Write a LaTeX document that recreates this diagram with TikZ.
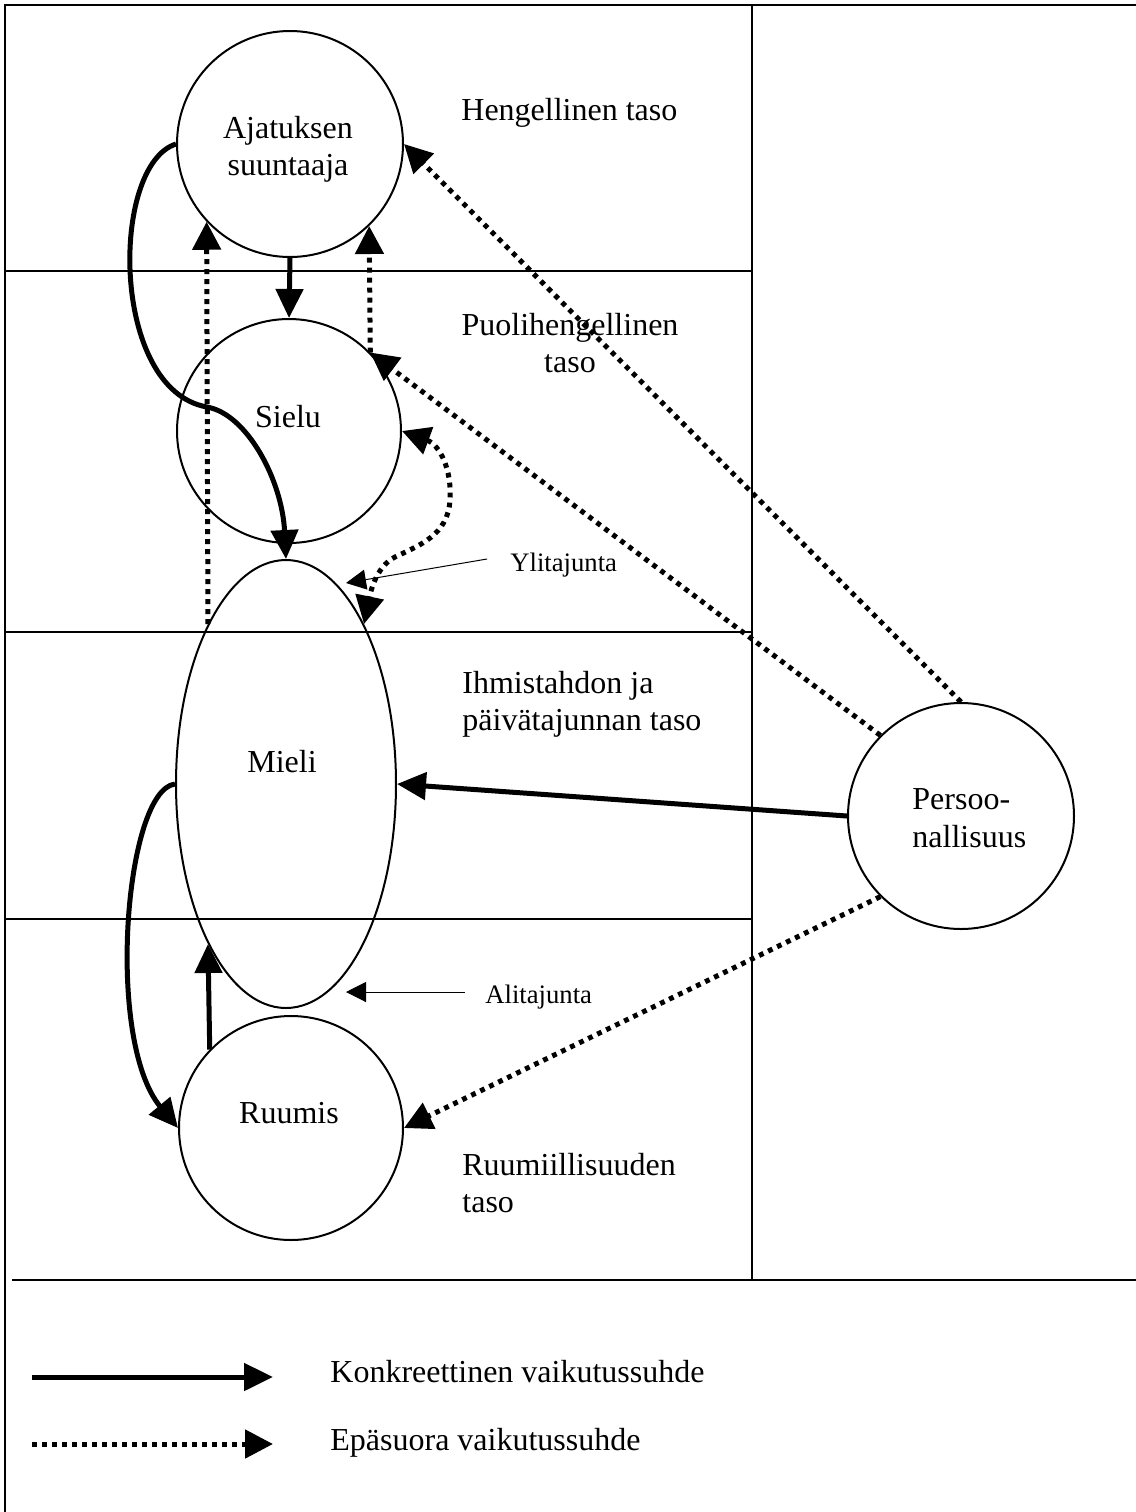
\documentclass[tikz,border=0pt]{standalone}
\usepackage{fontspec}
\setmainfont{Liberation Serif}
\usetikzlibrary{arrows.meta,shapes.geometric}
\begin{document}
\begin{tikzpicture}[x=0.5pt,y=-0.5pt,
  every node/.style={font=\fontsize{16}{18.5}\selectfont, inner sep=0pt},
  ring/.style={circle, draw, line width=1pt, minimum size=#1, inner sep=0pt},
  oval/.style={ellipse, draw, line width=1pt, minimum width=110pt, minimum height=224pt, inner sep=0pt},
  gridline/.style={line width=1pt},
  solidarrow/.style={line width=2.5pt, -{Triangle[length=14.5pt,width=13.5pt]}},
  dotarrow/.style={line width=2.5pt, dash pattern=on 2.4pt off 2.6pt, -{Triangle[length=14pt,width=14pt]}},
  dotboth/.style={line width=2.5pt, dash pattern=on 2.4pt off 2.6pt, {Triangle[length=14pt,width=14pt]}-{Triangle[length=14pt,width=14pt]}},
  thinarrow/.style={line width=0.5pt, -{Triangle[length=10pt,width=10pt]}},
  smalltext/.style={font=\fontsize{13.33}{15.4}\selectfont},
  ltxt/.style={anchor=base west},
  ctxt/.style={anchor=base}
]
\useasboundingbox (0,0) rectangle (1136,1512);
% frame and grid
\draw[gridline] (5,1530) -- (5,5) -- (1150,5);
\draw[gridline] (752,5) -- (752,1280);
\draw[gridline] (5,271) -- (752,271);
\draw[gridline] (5,632) -- (752,632);
\draw[gridline] (5,919) -- (752,919);
\draw[gridline] (12,1280) -- (1150,1280);

% main nodes
\node[ring=113pt] (A) at (290,144) {};
\node[ring=112pt] (S) at (289,431) {};
\node[oval] (M) at (286,784) {};
\node[ring=112pt] (R) at (291,1128) {};
\node[ring=113pt] (P) at (961,816) {};

% texts in nodes
\node[ctxt] (Atxt1) at (288,138) {Ajatuksen};
\node[ctxt] (Atxt2) at (288,175) {suuntaaja};
\node[ctxt] (Stxt) at (288,427) {Sielu};
\node[ctxt] (Mtxt) at (282,772) {Mieli};
\node[ctxt] (Rtxt) at (289,1123) {Ruumis};
\node[ltxt] (Ptxt1) at (912,809) {Persoo-};
\node[ltxt] (Ptxt2) at (912,847) {nallisuus};

% level labels
\node[ltxt] (L1) at (461,120) {Hengellinen taso};
\node[ctxt] (L2a) at (570,335) {Puolihengellinen};
\node[ctxt] (L2b) at (570,372) {taso};
\node[ltxt] (L3a) at (462,693) {Ihmistahdon ja};
\node[ltxt] (L3b) at (462,730) {päivätajunnan taso};
\node[ltxt] (L4a) at (462,1175) {Ruumiillisuuden};
\node[ltxt] (L4b) at (462,1212) {taso};
\node[ltxt,smalltext] (yli) at (510,571) {Ylitajunta};
\node[ltxt,smalltext] (ali) at (485,1003) {Alitajunta};

% connectors
\draw[solidarrow] (A.south) -- (S.north);
\draw[dotarrow] (M.116.3) -- (A.223.6);
\draw[dotarrow] (S.44.4) -- (A.314.3);
\draw[solidarrow] (A.west) .. controls (110,165) and (110,390) .. (207,407)
      .. controls (247,414) and (282,480) .. (M.north);
\draw[solidarrow] (M.west) .. controls (125,790) and (105,1040) .. (R.west);
\draw[solidarrow] (R.136.3) -- (M.244.6);
\draw[solidarrow] (P.west) -- (M.east);
\draw[dotarrow] (P.north) -- (A.east);
\draw[dotarrow] (P.135) -- (S.44.4);
\draw[dotarrow] (P.225) -- (R.east);
\draw[dotboth] (S.east) .. controls (440,445) and (452,470) .. (450,500)
      .. controls (448,535) and (420,545) .. (395,557)
      .. controls (375,567) and (370,595) .. (M.64.3);

% thin pointer arrows
\coordinate (ylis) at (487,559);
\coordinate (ylit) at (346,583);
\draw[thinarrow] (ylis) -- (ylit);
\coordinate (alis) at (465,992);
\coordinate (alit) at (346,992);
\draw[thinarrow] (alis) -- (alit);

% legend
\coordinate (ks) at (32,1377);
\coordinate (ke) at (273,1377);
\draw[solidarrow] (ks) -- (ke);
\node[ltxt] (K) at (330,1382) {Konkreettinen vaikutussuhde};
\coordinate (es) at (32,1444);
\coordinate (ee) at (273,1444);
\draw[dotarrow] (es) -- (ee);
\node[ltxt] (E) at (330,1450) {Epäsuora vaikutussuhde};
\end{tikzpicture}
\end{document}
